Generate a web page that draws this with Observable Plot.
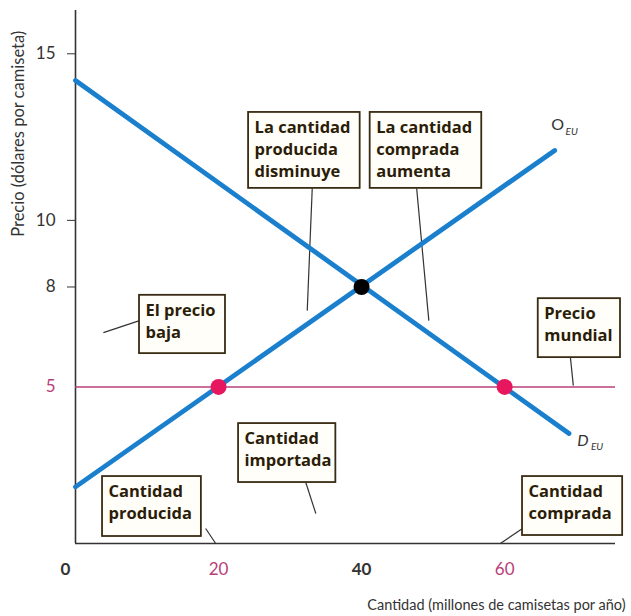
<!DOCTYPE html>
<html><head><meta charset="utf-8">
<script src="https://cdn.jsdelivr.net/npm/d3@7"></script>
<script src="https://cdn.jsdelivr.net/npm/@observablehq/plot@0.6"></script>
<style>body{margin:0;background:#fff;} svg{overflow:visible;display:block}</style>
</head><body><div id="chart"></div>
<script>
// ---- data ----
const demandQ = [0, 69];
const demandP = [14.2, 3.6];
const supplyQ = [0, 67];
const supplyP = [2.0, 12.1];
const worldPrice = 5;
const equilibriumQ = [40];
const equilibriumP = [8];
const tradeQ = [20, 60];
const tradeP = [5, 5];
const yTicksDark = [15, 10, 8];
const yTicksPink = [5];
const xTickOrigin = [0];
const xTicksDark = [40];
const xTicksPink = [20, 60];
const yTitle = "Precio (dólares por camiseta)";
const xTitle = "Cantidad (millones de camisetas por año)";

// annotations (boxes and leader lines, in data units)
const boxText = ["La cantidad\nproducida\ndisminuye", "La cantidad\ncomprada\naumenta", "El precio\nbaja", "Precio\nmundial", "Cantidad\nimportada", "Cantidad\nproducida", "Cantidad\ncomprada"];
const boxQ1 = [24.2, 41.2, 8.95, 64.7, 22.8, 3.78, 62.5];
const boxQ2 = [39.8, 56.8, 20.97, 76.2, 36.4, 17.6, 76.5];
const boxP1 = [13.24, 13.24, 7.75, 7.65, 3.90, 2.31, 2.31];
const boxP2 = [10.96, 10.96, 6.0, 5.88, 2.13, 0.51, 0.54];
const leadQ1 = [33.1, 47.7, 8.95, 69.2, 32.2, 18.2, 62.5];
const leadP1 = [10.96, 10.96, 6.99, 5.88, 2.13, 0.75, 0.75];
const leadQ2 = [32.4, 49.4, 3.9, 69.6, 33.6, 19.6, 59.4];
const leadP2 = [7.29, 6.99, 6.63, 5.04, 1.2, 0.3, 0.3];
const yTitleAt = 12.6;

const demand = demandQ.map((q, i) => ({q, p: demandP[i]}));
const supply = supplyQ.map((q, i) => ({q, p: supplyP[i]}));
const eq = equilibriumQ.map((q, i) => ({q, p: equilibriumP[i]}));
const trade = tradeQ.map((q, i) => ({q, p: tradeP[i]}));
const boxes = boxText.map((t, i) => ({t, x1: boxQ1[i], x2: boxQ2[i], y1: boxP1[i], y2: boxP2[i]}));
const leaders = leadQ1.map((q, i) => ({x1: q, y1: leadP1[i], x2: leadQ2[i], y2: leadP2[i]}));

const X0 = 0, X1 = 75.5, Y0 = 0.3, Y1 = 16.3;
const blue = "#1a7fcc", pink = "#b8407a", dotPink = "#e6175e", ink = "#2b1d08", axisInk = "#333";
const font = "Lato, 'Open Sans', sans-serif";

const chart = Plot.plot({
  width: 631, height: 616,
  marginLeft: 75, marginRight: 16, marginTop: 10, marginBottom: 73,
  style: {fontFamily: font, background: "#fff"},
  x: {domain: [X0, X1], axis: null},
  y: {domain: [Y0, Y1], axis: null},
  marks: [
    Plot.ruleX([X0], {y1: Y0, y2: Y1, stroke: axisInk, strokeWidth: 1.6}),
    Plot.ruleY([Y0], {x1: X0, x2: X1, stroke: axisInk, strokeWidth: 1.6}),
    Plot.ruleY([worldPrice], {x1: X0, x2: X1, stroke: pink, strokeWidth: 1.6}),
    Plot.link(leaders, {x1: "x1", y1: "y1", x2: "x2", y2: "y2", stroke: "#333", strokeWidth: 1.2}),
    Plot.line(demand, {x: "q", y: "p", stroke: blue, strokeWidth: 4.8}),
    Plot.line(supply, {x: "q", y: "p", stroke: blue, strokeWidth: 4.8}),
    Plot.dot(trade, {x: "q", y: "p", r: 8, fill: dotPink}),
    Plot.dot(eq, {x: "q", y: "p", r: 8, fill: "#000"}),
    Plot.rect(boxes, {x1: "x1", x2: "x2", y1: "y1", y2: "y2", fill: "#fffef8", stroke: "#3a2c14", strokeWidth: 1.8}),
    Plot.text(boxes, {x: "x1", y: "y1", text: "t", textAnchor: "start", lineAnchor: "top", dx: 6, dy: 5, lineHeight: 1.33, fontSize: 16.5, fontWeight: "bold", fontFamily: "'Open Sans', sans-serif", fill: ink}),
    // curve labels
    Plot.text(supply.slice(-1), {x: "q", y: "p", text: () => "O", dx: 3, dy: -26, fontSize: 16, fill: "#333"}),
    Plot.text(supply.slice(-1), {x: "q", y: "p", text: () => "EU", dx: 17, dy: -19, fontSize: 10, fontStyle: "italic", fill: "#333"}),
    Plot.text(demand.slice(-1), {x: "q", y: "p", text: () => "D", dx: 14, dy: 7, fontSize: 16, fontStyle: "italic", fill: "#333"}),
    Plot.text(demand.slice(-1), {x: "q", y: "p", text: () => "EU", dx: 28, dy: 13, fontSize: 10, fontStyle: "italic", fill: "#333"}),
    // axes
    Plot.axisY(yTicksDark, {tickSize: 8, tickPadding: 12, fontSize: 17, stroke: axisInk, fill: axisInk, label: null}),
    Plot.axisY(yTicksPink, {tickSize: 0, tickPadding: 20, fontSize: 17, fill: pink, label: null}),
    Plot.axisX(xTickOrigin, {tickSize: 0, tickPadding: 19, fontSize: 17, fontWeight: "bold", fill: axisInk, label: null, dx: -10}),
    Plot.axisX(xTicksDark, {tickSize: 0, tickPadding: 19, fontSize: 17, fontWeight: "bold", fill: axisInk, label: null}),
    Plot.axisX(xTicksPink, {tickSize: 0, tickPadding: 19, fontSize: 17, fill: pink, label: null}),
    Plot.text([yTitle], {x: () => X0, y: () => yTitleAt, text: d => d, rotate: -90, textAnchor: "middle", lineAnchor: "middle", dx: -57, fontSize: 16.5, fill: axisInk}),
    Plot.text([xTitle], {x: () => X1, y: () => Y0, text: d => d, textAnchor: "end", lineAnchor: "middle", dx: 10, dy: 62, fontSize: 14.5, fill: axisInk})
  ]
});
document.getElementById("chart").append(chart);
</script>
</body></html>
